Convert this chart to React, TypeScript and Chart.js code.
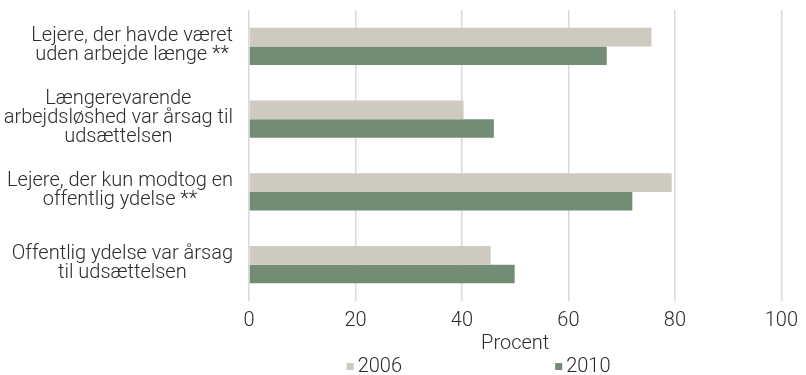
import React, { useEffect, useRef } from 'react';
import { Chart, registerables } from 'chart.js';

Chart.register(...registerables);

const categories: string[][] = [
  ['Lejere, der havde været', 'uden arbejde længe **'],
  ['Længerevarende', 'arbejdsløshed var årsag til', 'udsættelsen'],
  ['Lejere, der kun modtog en', 'offentlig ydelse **'],
  ['Offentlig ydelse var årsag', 'til udsættelsen'],
];
const seriesNames = ['2006', '2010'];
const values2006 = [75.6, 40.3, 79.4, 45.4];
const values2010 = [67.2, 46.0, 72.0, 49.9];
const xMin = 0;
const xMax = 100;
const xStep = 20;
const axisTitle = 'Procent';

const COLORS = ['#CECAC0', '#738D74'];
const TEXT = '#2b2b2b';
const GRID = '#d9d9d9';
const FAMILY = 'Roboto, "Noto Sans", sans-serif';
const WEIGHT = 300;
const SIZE = 20;

const yLabelPlugin = {
  id: 'excelYLabels',
  afterDraw(chart: any) {
    const ctx = chart.ctx;
    const yScale = chart.scales.y;
    const labels = chart.data.labels as string[][];
    ctx.save();
    ctx.font = `${WEIGHT} ${SIZE}px ${FAMILY}`;
    ctx.fillStyle = TEXT;
    ctx.textAlign = 'center';
    ctx.textBaseline = 'middle';
    const right = chart.chartArea.left - 16;
    const lh = 19;
    labels.forEach((lines, i) => {
      const cy = yScale.getPixelForTick(i) - 1;
      const maxW = Math.max(...lines.map((l) => ctx.measureText(l).width));
      const cx = right - maxW / 2;
      lines.forEach((l, j) => {
        ctx.fillText(l, cx, cy + (j - (lines.length - 1) / 2) * lh);
      });
    });
    ctx.restore();
  },
};

const legendPlugin = {
  id: 'excelLegend',
  afterDraw(chart: any) {
    const ctx = chart.ctx;
    const ca = chart.chartArea;
    const center = (ca.left + ca.right) / 2;
    const offsets = [-168.5, 40];
    const y = 366.5;
    ctx.save();
    ctx.font = `${WEIGHT} ${SIZE}px ${FAMILY}`;
    ctx.textAlign = 'left';
    ctx.textBaseline = 'middle';
    chart.data.datasets.forEach((ds: any, i: number) => {
      const x = center + offsets[i];
      ctx.fillStyle = ds.backgroundColor;
      ctx.fillRect(x, y - 3.5, 7, 7);
      ctx.fillStyle = TEXT;
      ctx.fillText(ds.label, x + 11, y);
    });
    ctx.restore();
  },
};

export default function App() {
  const ref = useRef<HTMLCanvasElement | null>(null);

  useEffect(() => {
    if (!ref.current) return;
    const chart = new Chart(ref.current, {
      type: 'bar',
      data: {
        labels: categories,
        datasets: [
          {
            label: seriesNames[0],
            data: values2006,
            backgroundColor: COLORS[0],
            borderWidth: 0,
            barPercentage: 1,
            categoryPercentage: 0.515,
          },
          {
            label: seriesNames[1],
            data: values2010,
            backgroundColor: COLORS[1],
            borderWidth: 0,
            barPercentage: 1,
            categoryPercentage: 0.515,
          },
        ],
      },
      options: {
        indexAxis: 'y',
        animation: false,
        responsive: true,
        maintainAspectRatio: false,
        layout: { padding: { top: 10, right: 19, bottom: 20, left: 0 } },
        plugins: {
          legend: { display: false },
          tooltip: { enabled: false },
        },
        scales: {
          x: {
            min: xMin,
            max: xMax,
            ticks: {
              stepSize: xStep,
              color: TEXT,
              padding: 8,
              font: { family: FAMILY, size: SIZE, weight: WEIGHT as any },
            },
            grid: { color: GRID, lineWidth: 1.5, drawTicks: false },
            border: { display: false },
            title: {
              display: true,
              text: axisTitle,
              color: TEXT,
              padding: { top: 0, bottom: 0 },
              font: { family: FAMILY, size: SIZE, weight: WEIGHT as any, lineHeight: 1.1 },
            },
            afterFit: (s: any) => {
              s.height = 54;
            },
          },
          y: {
            ticks: { display: false },
            grid: { display: false },
            border: { display: false },
            afterFit: (s: any) => {
              s.width = 249;
            },
          },
        },
      },
      plugins: [yLabelPlugin, legendPlugin],
    });
    return () => chart.destroy();
  }, []);

  return (
    <div style={{ position: 'absolute', left: 0, top: 0, width: 806, height: 375 }}>
      <canvas ref={ref} />
    </div>
  );
}
